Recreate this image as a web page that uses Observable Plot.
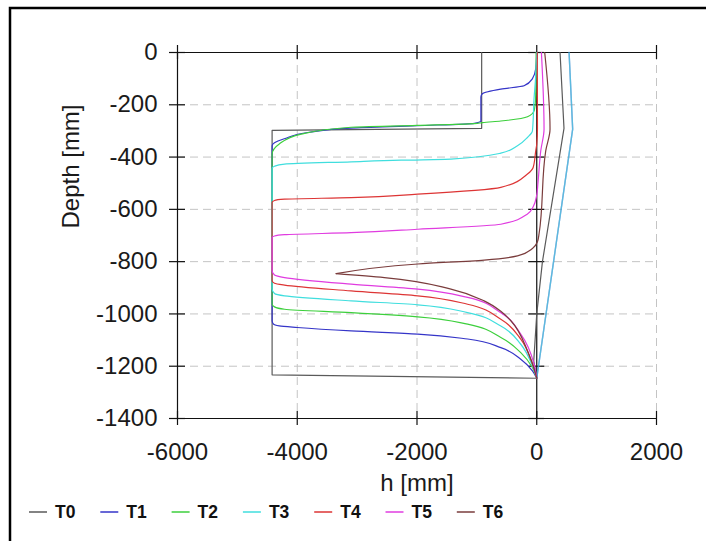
<!DOCTYPE html>
<html><head><meta charset="utf-8">
<script src="https://cdn.jsdelivr.net/npm/d3@7"></script>
<script src="https://cdn.jsdelivr.net/npm/@observablehq/plot@0.6"></script>
<style>body{margin:0;background:#fff;} #chart{width:706px;height:541px;}</style>
</head><body><div id="chart"></div>
<script>
// ---- data ----
const seriesNames  = ["T0", "T1", "T2", "T3", "T4", "T5", "T6"];
const seriesColors = ["#5a5a5a", "#3535c8", "#3ccf3c", "#40dede", "#dd3535", "#e03ce0", "#7a3c3c"];
const xTicks = [-6000, -4000, -2000, 0, 2000];
const yTicks = [0, -200, -400, -600, -800, -1000, -1200, -1400];
const xGrid = [-4000, -2000, 2000];
const yGrid = [-200, -400, -600, -800, -1000, -1200];

const T0_h = [389, 455, 95, 0, -50, 0, -4420, -4420, -920, -920];
const T0_d = [0, -290, -800, -1000, -1180, -1246, -1233, -298, -290, 0];

const T1_h = [0, -15, -72, -212, -600, -905, -933, -933, -1045, -2000, -3100, -3800, -4217, -4380, -4420, -4420, -4400, -4300, -4000, -3100, -1988, -1155, -600, -267, -72, 0];
const T1_d = [0, -60, -100, -127, -140, -157, -170, -261, -271, -280, -289, -305, -330, -345, -357, -1026, -1038, -1046, -1052, -1065, -1077, -1096, -1129, -1173, -1218, -1246];

const T2_h = [-10, -12, -20, -40, -155, -600, -905, -1045, -2000, -3100, -3933, -4300, -4420, -4420, -4380, -4212, -3100, -1988, -1155, -600, -267, -72, 0];
const T2_d = [0, -100, -180, -220, -246, -262, -268, -272, -279, -286, -312, -350, -389, -963, -973, -982, -995, -1011, -1039, -1090, -1148, -1205, -1246];

const T3_h = [0, -20, -44, -72, -155, -322, -600, -1433, -2267, -3100, -4212, -4380, -4420, -4420, -4380, -4212, -3100, -1988, -1155, -600, -267, -72, 0];
const T3_d = [0, -100, -172, -300, -325, -357, -385, -408, -412, -418, -427, -435, -442, -905, -922, -931, -950, -965, -995, -1046, -1116, -1199, -1246];

const T4_h = [8, 12, 0, -17, -60, -155, -600, -1988, -3100, -4212, -4380, -4420, -4420, -4380, -4212, -3100, -1988, -1155, -600, -267, -72, 0];
const T4_d = [0, -290, -350, -376, -440, -465, -516, -542, -555, -561, -566, -574, -873, -883, -890, -912, -931, -963, -1020, -1096, -1192, -1246];

const T5_h = [78, 122, 67, 20, 0, -60, -155, -600, -1988, -3100, -4212, -4380, -4420, -4420, -4380, -4212, -3100, -1988, -1155, -600, -267, -44, 0];
const T5_d = [0, -293, -376, -500, -545, -590, -618, -657, -676, -689, -697, -702, -708, -835, -851, -861, -886, -905, -937, -995, -1077, -1192, -1246];

// T6: upper branch down to the spike, then lower branch from the spike
const T6a_h = [133, 222, 150, 39, 10, -72, -322, -878, -1988, -3350];
const T6a_d = [0, -293, -376, -693, -725, -750, -778, -794, -809, -846];
const T6b_h = [-3350, -2545, -1433, -878, -600, -433, -155, -17, 0];
const T6b_d = [-846, -861, -905, -950, -990, -1026, -1141, -1230, -1246];

// right-hand line shared by T1 and T3
const shared_h = [540, 600, 0];
const shared_d = [0, -293, -1246];

// ---- build tables ----
function rows(series, hs, ds, key) {
  return hs.map((h, i) => ({series, key: key || series, h, depth: ds[i]}));
}
const smoothRows = [
  ...rows("T1", T1_h, T1_d), ...rows("T2", T2_h, T2_d), ...rows("T3", T3_h, T3_d),
  ...rows("T4", T4_h, T4_d), ...rows("T5", T5_h, T5_d),
  ...rows("T6", T6a_h, T6a_d, "T6a"), ...rows("T6", T6b_h, T6b_d, "T6b")
];
const linearRows = [...rows("T0", T0_h, T0_d)];
const sharedRows = [...rows("T1", shared_h, shared_d, "T1s"), ...rows("T3", shared_h, shared_d, "T3s")];

const tickRuleX = (yv) => Plot.ruleX(xTicks, {x: d => d, y1: () => yv, y2: () => yv, insetTop: -7, insetBottom: -7, stroke: "#111", strokeWidth: 1.2});
const tickRuleY = (xv) => Plot.ruleY(yTicks, {y: d => d, x1: () => xv, x2: () => xv, insetLeft: -8, insetRight: -8, stroke: "#111", strokeWidth: 1.2});

const chart = Plot.plot({
  width: 706, height: 541,
  marginLeft: 177, marginRight: 50, marginTop: 52, marginBottom: 123,
  style: {fontFamily: "'Liberation Sans', Arial, sans-serif", fontSize: "24px", color: "#1a1a1a", background: "#fff"},
  x: {domain: [-6000, 2000], axis: null},
  y: {domain: [-1400, 0], axis: null},
  color: {domain: seriesNames, range: seriesColors},
  marks: [
    Plot.ruleX(xGrid, {stroke: "#c4c4c4", strokeDasharray: "8,5"}),
    Plot.ruleY(yGrid, {stroke: "#c4c4c4", strokeDasharray: "8,5"}),
    Plot.ruleX([-6000, 0], {stroke: "#111", strokeWidth: 1.2}),
    Plot.ruleY([-1400, 0], {stroke: "#111", strokeWidth: 1.2}),
    tickRuleX(-1400), tickRuleX(0), tickRuleY(-6000), tickRuleY(0),
    Plot.line(sharedRows, {x: "h", y: "depth", z: "key", stroke: "series", strokeWidth: 1.4, strokeOpacity: 0.6}),
    Plot.line(linearRows, {x: "h", y: "depth", z: "key", stroke: "series", strokeWidth: 1.2}),
    Plot.line(smoothRows, {x: "h", y: "depth", z: "key", stroke: "series", strokeWidth: 1.2, curve: "monotone-y"}),
    Plot.axisX({ticks: xTicks, tickSize: 0, tickPadding: 24, label: null, fontSize: 24, tickFormat: d => String(d)}),
    Plot.axisY({ticks: yTicks, tickSize: 0, tickPadding: 20, label: null, fontSize: 24, tickFormat: d => String(d)}),
    Plot.text(["h [mm]"], {text: d => d, frameAnchor: "bottom", dy: 72, fontSize: 24}),
    Plot.text(["Depth [mm]"], {text: d => d, frameAnchor: "left", dx: -106, dy: -7, rotate: -90, fontSize: 24})
  ]
});
document.getElementById("chart").appendChild(chart);

// legend + frame
const svg = d3.select(chart);
const lg = svg.append("g")
  .attr("font-family", "'Liberation Sans Narrow', 'Liberation Sans', Arial, sans-serif")
  .attr("font-weight", "bold").attr("font-size", 17.5).attr("fill", "#111")
  .attr("text-anchor", "start");
seriesNames.forEach((s, i) => {
  const x0 = 29 + i * 71.3;
  lg.append("line").attr("x1", x0).attr("x2", x0 + 18).attr("y1", 512).attr("y2", 512)
    .attr("stroke", seriesColors[i]).attr("stroke-width", 1.5);
  lg.append("text").attr("x", x0 + 26).attr("y", 512).attr("dy", "0.36em")
    .attr("text-anchor", "start").text(s);
});
svg.append("path").attr("d", "M10,541V8H706").attr("fill", "none").attr("stroke", "#000").attr("stroke-width", 2.5);
</script>
</body></html>
